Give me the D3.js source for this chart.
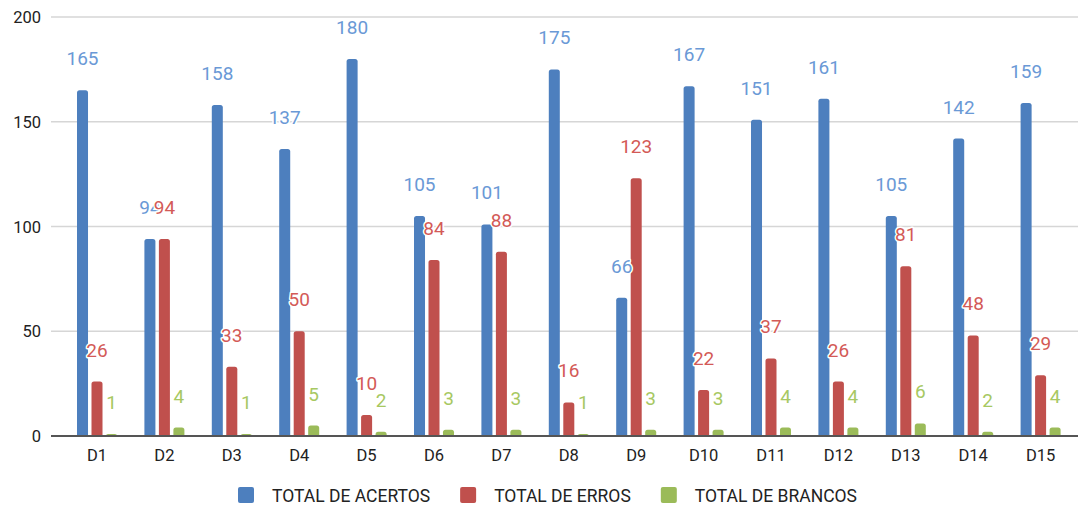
<!DOCTYPE html>
<html>
<head>
<meta charset="utf-8">
<script src="https://cdn.jsdelivr.net/npm/d3@7"></script>
<style>
  html, body { margin: 0; padding: 0; background: #fff; }
  svg { display: block; font-family: Roboto, "Noto Sans", sans-serif; }
</style>
</head>
<body>
<svg id="chart" width="1078" height="507"></svg>
<script>
// Categories and series
const categories = ["D1","D2","D3","D4","D5","D6","D7","D8","D9","D10","D11","D12","D13","D14","D15"];
const acertos = [165, 94, 158, 137, 180, 105, 101, 175, 66, 167, 151, 161, 105, 142, 159];
const erros   = [26, 94, 33, 50, 10, 84, 88, 16, 123, 22, 37, 26, 81, 48, 29];
const brancos = [1, 4, 1, 5, 2, 3, 3, 1, 3, 3, 4, 4, 6, 2, 4];
const seriesNames = ["TOTAL DE ACERTOS", "TOTAL DE ERROS", "TOTAL DE BRANCOS"];
const yTicks = [0, 50, 100, 150, 200];

const series = [
  { name: seriesNames[0], values: acertos, bar: "#4d7fbe", label: "#6a99d6" },
  { name: seriesNames[1], values: erros,   bar: "#c0504d", label: "#d35a57" },
  { name: seriesNames[2], values: brancos, bar: "#9bbb59", label: "#a7c862" }
];

const svg = d3.select("#chart");

const plotLeft = 51, plotRight = 1078;
const y = d3.scaleLinear().domain([0, 200]).range([436, 17]);

const x0 = d3.scaleBand()
  .domain(categories)
  .range([63.3, 1074.3])
  .paddingInner(0.4065)
  .paddingOuter(0.2033);

const x1 = d3.scaleBand()
  .domain(seriesNames)
  .range([0, x0.bandwidth()])
  .paddingInner(0.24);

// Gridlines
svg.append("g")
  .selectAll("line")
  .data(yTicks.filter(d => d !== 0))
  .join("line")
  .attr("x1", plotLeft).attr("x2", plotRight)
  .attr("y1", d => y(d)).attr("y2", d => y(d))
  .attr("stroke", "#d6d6d6")
  .attr("stroke-width", 1.5);

// Y tick labels
svg.append("g")
  .selectAll("text")
  .data(yTicks)
  .join("text")
  .attr("x", 41)
  .attr("y", d => y(d) + 6)
  .attr("text-anchor", "end")
  .attr("font-size", 16.5)
  .attr("fill", "#222")
  .text(d => d);

// Bars with rounded top corners
function barPath(x, top, w, bottom, r) {
  const h = bottom - top;
  const rr = Math.min(r, h, w / 2);
  return `M${x},${bottom}V${top + rr}Q${x},${top} ${x + rr},${top}H${x + w - rr}Q${x + w},${top} ${x + w},${top + rr}V${bottom}Z`;
}

const bw = x1.bandwidth();
series.forEach(s => {
  svg.append("g")
    .selectAll("path")
    .data(categories.map((c, i) => ({ c, v: s.values[i] })))
    .join("path")
    .attr("d", d => barPath(x0(d.c) + x1(s.name), y(d.v), bw, y(0), 2.5))
    .attr("fill", s.bar);
});

// Baseline
svg.append("line")
  .attr("x1", plotLeft).attr("x2", plotRight)
  .attr("y1", y(0)).attr("y2", y(0))
  .attr("stroke", "#555")
  .attr("stroke-width", 2);

// Value labels with white halo
series.forEach(s => {
  svg.append("g")
    .selectAll("text")
    .data(categories.map((c, i) => ({ c, v: s.values[i] })))
    .join("text")
    .attr("x", d => x0(d.c) + x1(s.name) + bw / 2)
    .attr("y", d => y(d.v) - 25)
    .attr("text-anchor", "middle")
    .attr("font-size", 19)
    .attr("fill", s.label)
    .attr("stroke", "#fff")
    .attr("stroke-width", 3)
    .attr("stroke-linejoin", "round")
    .attr("paint-order", "stroke")
    .text(d => d.v);
});

// X axis labels
svg.append("g")
  .selectAll("text")
  .data(categories)
  .join("text")
  .attr("x", d => x0(d) + x0.bandwidth() / 2)
  .attr("y", 461)
  .attr("text-anchor", "middle")
  .attr("font-size", 16.5)
  .attr("fill", "#222")
  .text(d => d);

// Legend
const legend = svg.append("g");
let lx = 238;
series.forEach(s => {
  legend.append("rect")
    .attr("x", lx).attr("y", 487)
    .attr("width", 16).attr("height", 16)
    .attr("rx", 2)
    .attr("fill", s.bar);
  const t = legend.append("text")
    .attr("x", lx + 34).attr("y", 501.5)
    .attr("font-size", 17.5)
    .attr("fill", "#222")
    .text(s.name);
  lx += 34 + t.node().getComputedTextLength() + 30;
});
</script>
</body>
</html>
